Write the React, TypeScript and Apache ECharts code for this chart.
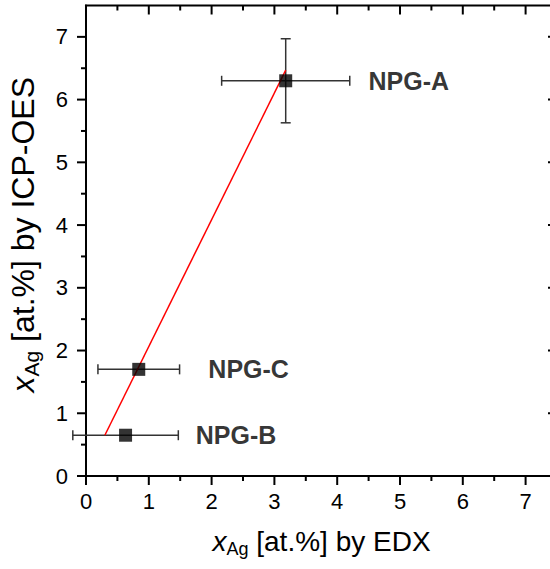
import React, { useEffect, useRef } from "react";
import * as echarts from "echarts";

const sampleNames = ["NPG-A", "NPG-C", "NPG-B"];
const edxValues = [3.18, 0.84, 0.63];
const icpValues = [6.3, 1.7, 0.65];
const edxErrors = [1.02, 0.65, 0.84];
const icpErrors = [0.67, 0, 0];
const labelAnchorX = [4.49, 1.94, 1.74];
const fitLineX = [0.3, 3.18];
const fitLineY = [0.65, 6.47];
const axisTicks = [0, 1, 2, 3, 4, 5, 6, 7];
const minorTicks = [0.5, 1.5, 2.5, 3.5, 4.5, 5.5, 6.5];
const AXIS_MIN = 0;
const AXIS_MAX = 7.5;

const FONT = "Liberation Sans, Arial, sans-serif";

export default function App() {
  const ref = useRef<HTMLDivElement>(null);
  useEffect(() => {
    if (!ref.current) return;
    const chart = echarts.init(ref.current, null, { renderer: "svg" });
    const lineStyle = { color: "#000", width: 2 };
    const label = (margin: number) => ({
      show: true,
      margin,
      color: "#000",
      fontSize: 22,
      fontFamily: FONT,
      formatter: (v: number) => (axisTicks.includes(v) ? String(v) : ""),
    });
    const richName = (size: number) => ({
      i: { fontStyle: "italic", fontSize: size, fontFamily: FONT, color: "#000" },
      s: { fontSize: Math.round(size * 0.65), fontFamily: FONT, color: "#000", padding: [Math.round(size * 0.55), 0, 0, 0] },
      n: { fontSize: size, fontFamily: FONT, color: "#000" },
    });
    const baseAxis = (position: string, margin: number) => ({
      type: "value",
      min: AXIS_MIN,
      max: AXIS_MAX,
      interval: 1,
      position,
      z: 0,
      splitLine: { show: false },
      axisLine: { show: true, lineStyle },
      axisTick: { show: false },
      minorTick: { show: false },
      axisLabel: label(margin),
    });
    const tickSeries = (values: number[], len: number) => ({
      type: "custom",
      data: values.map((v) => [v, AXIS_MIN]),
      clip: false,
      silent: true,
      z: 10,
      renderItem: (params: any, api: any) => {
        const v = api.value(0);
        const style = { stroke: "#000", lineWidth: 2 };
        const b = api.coord([v, AXIS_MIN]);
        const t = api.coord([v, AXIS_MAX]);
        const l = api.coord([AXIS_MIN, v]);
        const r = api.coord([AXIS_MAX, v]);
        return {
          type: "group",
          children: [
            { type: "line", shape: { x1: b[0], y1: b[1], x2: b[0], y2: b[1] + len }, style },
            { type: "line", shape: { x1: t[0], y1: t[1], x2: t[0], y2: t[1] + len }, style },
            { type: "line", shape: { x1: l[0], y1: l[1], x2: l[0] - len, y2: l[1] }, style },
            { type: "line", shape: { x1: r[0], y1: r[1], x2: r[0] - len, y2: r[1] }, style },
          ],
        };
      },
    });
    const errData = edxValues.map((x, i) => [x, icpValues[i], edxErrors[i], icpErrors[i]]);
    chart.setOption({
      animation: false,
      grid: {
        left: 86,
        top: 5.5,
        right: -7,
        bottom: 93,
        containLabel: false,
        outerBoundsMode: "none",
        show: true,
        borderColor: "#000",
        borderWidth: 2,
        backgroundColor: "transparent",
      },
      xAxis: {
        ...baseAxis("bottom", 14),
        name: "{i|x}{s|Ag}{n| [at.%] by EDX}",
        nameLocation: "middle",
        nameGap: 49,
        nameTextStyle: { rich: richName(28) },
      },
      yAxis: {
        ...baseAxis("left", 18),
        name: "{i|x}{s|Ag}{n| [at.%] by ICP-OES}",
        nameLocation: "middle",
        nameGap: 44,
        nameRotate: 90,
        nameTextStyle: { rich: richName(32), padding: [0, 0, 0, 12] },
      },
      series: [
        tickSeries(axisTicks, 9),
        tickSeries(minorTicks, 5),
        {
          type: "line",
          data: fitLineX.map((x, i) => [x, fitLineY[i]]),
          symbol: "none",
          lineStyle: { color: "#ff0000", width: 1.5 },
          z: 3,
        },
        {
          type: "custom",
          data: errData,
          z: 2,
          renderItem: (params: any, api: any) => {
            const x = api.value(0);
            const y = api.value(1);
            const xe = api.value(2);
            const ye = api.value(3);
            const style = { stroke: "#333", lineWidth: 1.5 };
            const children: any[] = [];
            const l = api.coord([x - xe, y]);
            const r = api.coord([x + xe, y]);
            const cap = 5;
            children.push({ type: "line", shape: { x1: l[0], y1: l[1], x2: r[0], y2: r[1] }, style });
            children.push({ type: "line", shape: { x1: l[0], y1: l[1] - cap, x2: l[0], y2: l[1] + cap }, style });
            children.push({ type: "line", shape: { x1: r[0], y1: r[1] - cap, x2: r[0], y2: r[1] + cap }, style });
            if (ye > 0) {
              const t = api.coord([x, y + ye]);
              const b = api.coord([x, y - ye]);
              children.push({ type: "line", shape: { x1: t[0], y1: t[1], x2: b[0], y2: b[1] }, style });
              children.push({ type: "line", shape: { x1: t[0] - cap, y1: t[1], x2: t[0] + cap, y2: t[1] }, style });
              children.push({ type: "line", shape: { x1: b[0] - cap, y1: b[1], x2: b[0] + cap, y2: b[1] }, style });
            }
            return { type: "group", children };
          },
        },
        {
          type: "scatter",
          data: edxValues.map((x, i) => [x, icpValues[i]]),
          symbol: "rect",
          symbolSize: 13,
          itemStyle: { color: "#000" },
          z: 4,
        },
        {
          type: "scatter",
          data: labelAnchorX.map((x, i) => ({ value: [x, icpValues[i]], name: sampleNames[i] })),
          symbol: "circle",
          symbolSize: 1,
          itemStyle: { color: "rgba(0,0,0,0)" },
          label: {
            show: true,
            position: "right",
            distance: 0,
            formatter: (p: any) => p.name,
            fontSize: 25,
            fontWeight: "bold",
            fontFamily: FONT,
            color: "#000",
          },
          z: 5,
        },
      ],
    });
    return () => chart.dispose();
  }, []);
  return (
    <div style={{ position: "fixed", left: 0, top: 0, width: 550, height: 569, background: "#fff" }}>
      <div ref={ref} style={{ width: 550, height: 569 }} />
    </div>
  );
}
